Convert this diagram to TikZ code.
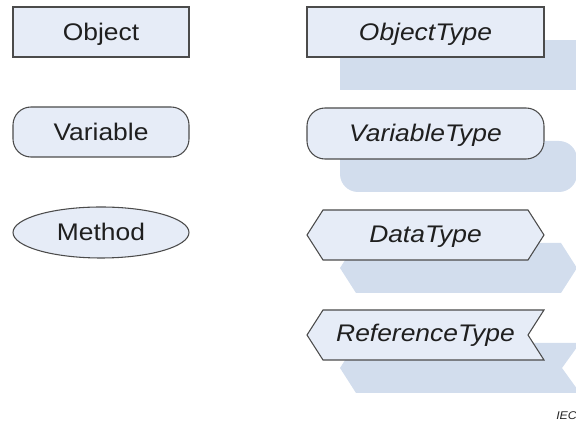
\documentclass[tikz,border=0pt]{standalone}
\usepackage{fontspec}
\setmainfont[FakeStretch=1.1]{Liberation Sans}
\definecolor{boxfill}{RGB}{230,236,247}
\definecolor{shadowfill}{RGB}{210,221,237}
\definecolor{boxline}{RGB}{75,75,75}
\begin{document}
\begin{tikzpicture}[x=0.75pt,y=-0.75pt,
  elemshape/.style={fill=boxfill,draw=boxline,line width=0.8pt,line join=miter},
  lbl/.style={anchor=base,font=\fontsize{18}{21}\selectfont,text=black!88,inner sep=0pt},
  ilbl/.style={lbl,font=\fontsize{18}{21}\selectfont\itshape}]
\useasboundingbox (0,0) rectangle (576,423);
% left column
\draw[elemshape] (13,7) rectangle (189,57);
\node[lbl] (obj) at (101,40.5) {Object};
\draw[elemshape,rounded corners=13.5pt] (13,107) rectangle (189,157);
\node[lbl] (var) at (101,141) {Variable};
\draw[elemshape] (101,232.5) ellipse [x radius=88, y radius=25.5];
\node[lbl] (meth) at (101,241) {Method};
% shadows
\fill[shadowfill] (340,40) rectangle (580,90);
\fill[shadowfill,rounded corners=13.5pt] (340,141) rectangle (577,192);
\fill[shadowfill] (340,268) -- (356,243) -- (561,243) -- (577,268) -- (561,293) -- (356,293) -- cycle;
\fill[shadowfill] (340,368) -- (356,343) -- (580,343) -- (562,368) -- (580,393) -- (356,393) -- cycle;
% right column
\draw[elemshape] (307,7) rectangle (544,57);
\node[ilbl] (objt) at (425.5,40.5) {ObjectType};
\draw[elemshape,rounded corners=13.5pt] (307,108) rectangle (544,159);
\node[ilbl] (vart) at (425.5,142) {VariableType};
\draw[elemshape] (307,235) -- (323,210) -- (528,210) -- (544,235) -- (528,260) -- (323,260) -- cycle;
\node[ilbl] (dt) at (425.5,243) {DataType};
\draw[elemshape] (307,335) -- (323,310) -- (544,310) -- (528,335) -- (544,360) -- (323,360) -- cycle;
\node[ilbl] (rt) at (425.5,342) {ReferenceType};
\node[anchor=base west,inner sep=0pt,font=\fontsize{8.4}{10}\selectfont\itshape,text=black!85] (iec) at (556,420) {IEC};
\end{tikzpicture}
\end{document}
